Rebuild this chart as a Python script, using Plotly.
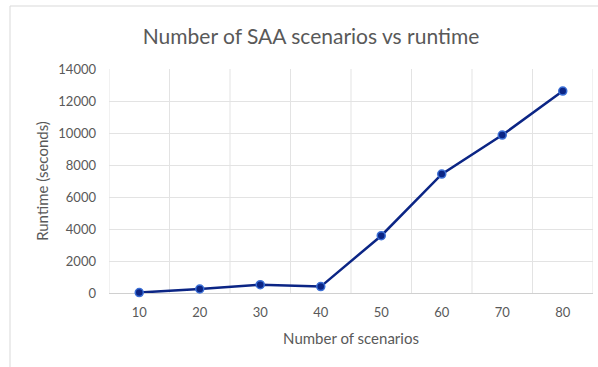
import plotly.graph_objects as go

# Runtime of the SAA model for increasing scenario counts
scenarios = ["10", "20", "30", "40", "50", "60", "70", "80"]
runtime_seconds = [30, 250, 520, 400, 3580, 7430, 9870, 12620]
y_ticks = [0, 2000, 4000, 6000, 8000, 10000, 12000, 14000]

W, H = 598, 367
L, R, T, B = 109, 5, 69, 74
pw, ph = W - L - R, H - T - B

fig = go.Figure(
    go.Scatter(
        x=scenarios,
        y=runtime_seconds,
        mode="lines+markers",
        line=dict(color="#0b2585", width=2.5),
        marker=dict(size=8, color="#0b2585", line=dict(color="#3b6fd6", width=1.5)),
        cliponaxis=False,
    )
)

grey_text = "#595959"
font_family = "Lato, 'Open Sans', sans-serif"

fig.update_layout(
    width=W,
    height=H,
    margin=dict(l=L, r=R, t=T, b=B),
    paper_bgcolor="white",
    plot_bgcolor="white",
    showlegend=False,
    font=dict(family=font_family, color=grey_text, size=13),
    title=dict(
        text="Number of SAA scenarios vs runtime",
        x=311 / W,
        xanchor="center",
        y=1 - 37 / H,
        yanchor="middle",
        font=dict(size=21, color=grey_text, family=font_family),
    ),
    xaxis=dict(
        type="category",
        showgrid=False,
        ticks="",
        ticklabelstandoff=10,
        tickfont=dict(size=13, color=grey_text),
        title=dict(text="Number of scenarios", font=dict(size=15, color=grey_text), standoff=14),
        showline=False,
        zeroline=False,
        range=[-0.5, len(scenarios) - 0.5],
    ),
    yaxis=dict(
        range=[0, 14000],
        tickvals=y_ticks,
        ticktext=[str(v) for v in y_ticks],
        showgrid=True,
        gridcolor="#e3e3e3",
        gridwidth=1,
        zeroline=True,
        zerolinecolor="#d0d0d0",
        zerolinewidth=1,
        ticks="",
        ticklabelstandoff=12,
        tickfont=dict(size=13, color=grey_text),
        title=dict(text="Runtime (seconds)", font=dict(size=15, color=grey_text), standoff=6),
    ),
)

# Vertical gridlines on category boundaries
for i in range(len(scenarios) + 1):
    fig.add_shape(
        type="line",
        xref="x",
        yref="paper",
        x0=i - 0.5,
        x1=i - 0.5,
        y0=0,
        y1=1,
        line=dict(color="#e3e3e3", width=1),
        layer="below",
    )

# Outer chart frame (left and top edges fall inside the page)
fig.add_shape(
    type="rect",
    xref="paper",
    yref="paper",
    x0=(10 - L) / pw,
    x1=(W + 5 - L) / pw,
    y0=(T + ph - (H + 5)) / ph,
    y1=(T + ph - 6) / ph,
    line=dict(color="#d9d9d9", width=1),
    layer="below",
)

fig.write_html("out.html")
